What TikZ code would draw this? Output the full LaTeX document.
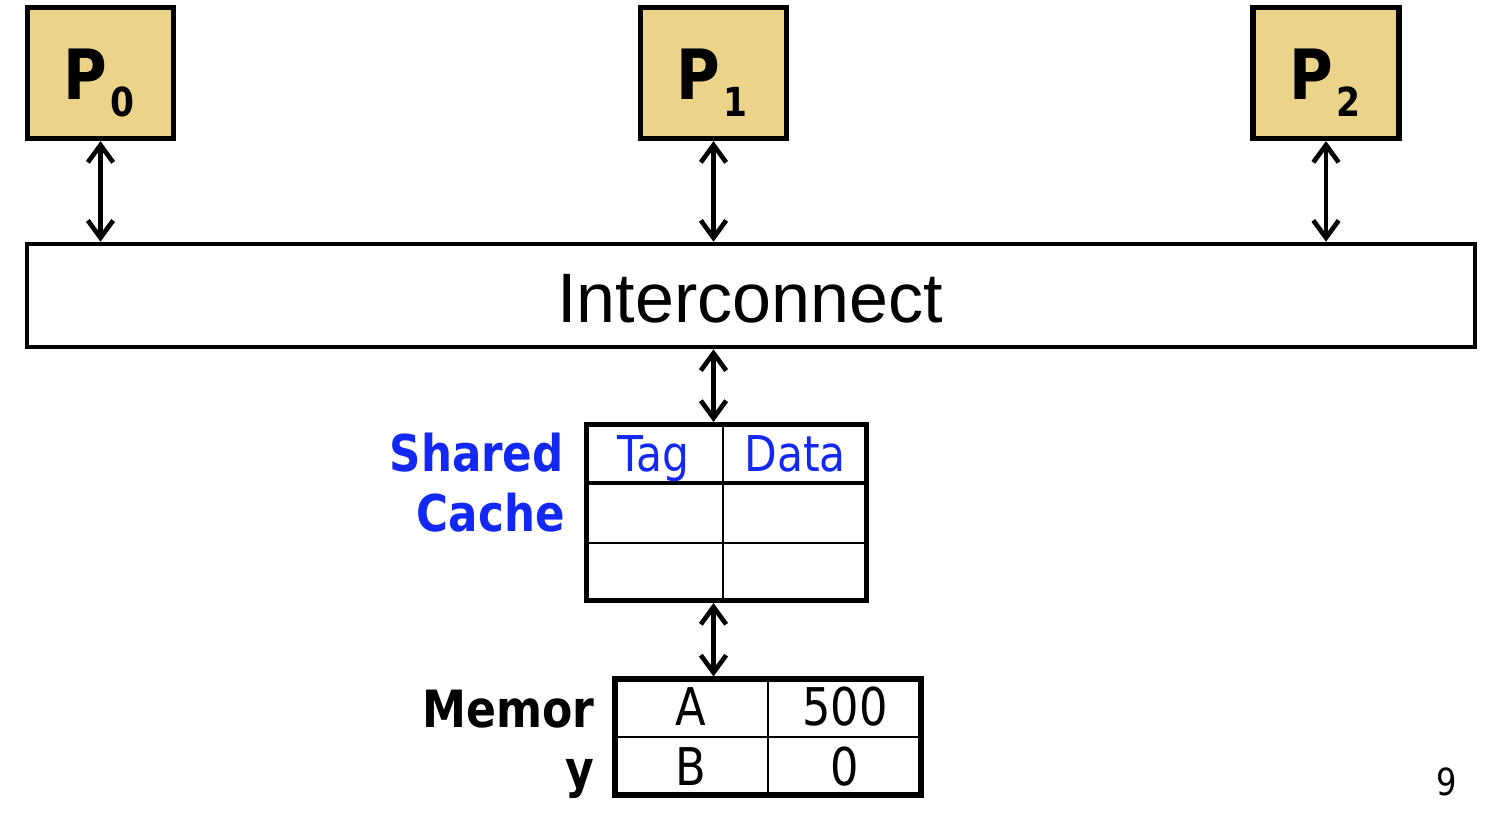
\documentclass[tikz,border=0pt]{standalone}
\usepackage{fontspec}
\setmainfont{DejaVu Sans}[FakeStretch=0.86]
\newfontfamily\arialf{Liberation Sans}
\usetikzlibrary{arrows.meta}
\definecolor{pfill}{RGB}{235,212,138}
\definecolor{cblue}{RGB}{20,40,245}
\newcommand\myfs[1]{\fontsize{#1}{#1}\selectfont}
\begin{document}
\begin{tikzpicture}[x=0.75pt,y=-0.75pt,
  pbox/.style={draw=black,line width=3.9pt,fill=pfill,minimum width=109.5pt,minimum height=98.25pt,inner sep=0pt},
  plabel/.style={anchor=base,inner sep=0pt,font=\bfseries\myfs{52pt}},
  bar/.style={draw=black,line width=3.4pt,minimum width=1086pt,minimum height=77.25pt,inner sep=0pt},
  tbl/.style={draw=black,line width=3.8pt,inner sep=0pt},
  txt/.style={inner sep=0pt},
  biarrow/.style={line width=3.5pt,{Straight Barb[length=13pt,width=19pt]}-{Straight Barb[length=13pt,width=19pt]}},
  thin/.style={line width=1.7pt},
  thick row/.style={line width=3.4pt}
]
\useasboundingbox (0,0) rectangle (1486,816);

% processors
\node[pbox] (P0) at (100.5,73) {};
\node[pbox] (P1) at (713.5,73) {};
\node[pbox] (P2) at (1326,73) {};
\node[plabel] (P0t) at (99,100) {P\hspace{2pt}\raisebox{-12.75pt}{\myfs{30pt}0}};
\node[plabel] (P1t) at (712,100) {P\hspace{2pt}\raisebox{-12.75pt}{\myfs{30pt}1}};
\node[plabel] (P2t) at (1325,100) {P\hspace{2pt}\raisebox{-12.75pt}{\myfs{30pt}2}};

% interconnect
\node[bar] (ic) at (751,295.5) {};
\node[txt,anchor=base] (ict) at (750,323) {\arialf\myfs{52.5pt}Interconnect};

% shared cache
\node[tbl,minimum width=210pt,minimum height=132pt] (cache) at (726.5,512.5) {};
\coordinate (cc) at (723,0);
\draw[thin] (cc |- cache.north) -- (cc |- cache.south);
\coordinate (r1) at (0,483);
\coordinate (r2) at (0,543);
\draw[thick row] (r1 -| cache.west) -- (r1 -| cache.east);
\draw[thin] (r2 -| cache.west) -- (r2 -| cache.east);
\node[txt,anchor=base,text=cblue] (tag) at (653,472) {\myfs{37pt}Tag};
\node[txt,anchor=base,text=cblue] (data) at (795,472) {\myfs{37pt}Data};
\node[txt,anchor=base east,text=cblue] (shared) at (564,472) {\bfseries\myfs{38pt}Shared};
\node[txt,anchor=base east,text=cblue] (cachet) at (565,532) {\bfseries\myfs{38pt}Cache};

% memory
\node[tbl,minimum width=229.5pt,minimum height=87pt] (mem) at (768,737) {};
\draw[thin] (mem.north) -- (mem.south);
\draw[thin] (mem.west) -- (mem.east);
\node[txt,anchor=base east] (memt) at (595,727) {\bfseries\myfs{38.5pt}Memor};
\node[txt,anchor=base east] (memy) at (595,787) {\bfseries\myfs{38.5pt}y};
\node[txt,anchor=base] (va) at (691,725) {\myfs{39pt}A};
\node[txt,anchor=base] (v500) at (845,725) {\myfs{39pt}500};
\node[txt,anchor=base] (vb) at (691,785) {\myfs{39pt}B};
\node[txt,anchor=base] (v0) at (845,785) {\myfs{39pt}0};

% page number
\node[txt,anchor=base] (pg) at (1447,795) {\myfs{28pt}9};

% connectors
\draw[biarrow] (P0.south) -- (P0.south |- ic.north);
\draw[biarrow] (P1.south) -- (P1.south |- ic.north);
\draw[biarrow] (P2.south) -- (P2.south |- ic.north);
\draw[biarrow] (P1 |- ic.south) -- (P1 |- cache.north);
\draw[biarrow] (P1 |- cache.south) -- (P1 |- mem.north);
\end{tikzpicture}
\end{document}
